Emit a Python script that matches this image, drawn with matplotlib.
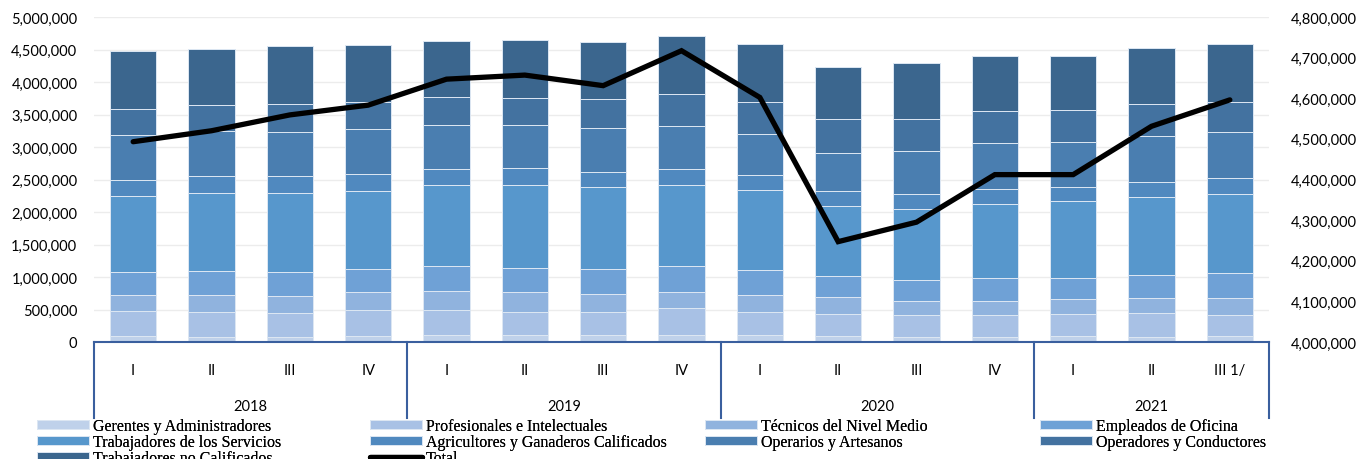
import matplotlib
matplotlib.use("Agg")
import matplotlib.pyplot as plt
from matplotlib.ticker import FuncFormatter, MultipleLocator
from matplotlib.transforms import blended_transform_factory
import numpy as np

quarters = ["I", "II", "III", "IV", "I", "II", "III", "IV",
            "I", "II", "III", "IV", "I", "II", "III 1/"]
years = ["2018", "2019", "2020", "2021"]
year_counts = [4, 4, 4, 3]

categories = ["Gerentes y Administradores", "Profesionales e Intelectuales",
              "Técnicos del Nivel Medio", "Empleados de Oficina",
              "Trabajadores de los Servicios", "Agricultores y Ganaderos Calificados",
              "Operarios y Artesanos", "Operadores y Conductores",
              "Trabajadores no Calificados"]

gerentes      = [87, 77, 77, 87, 113, 113, 113, 113, 113, 87, 77, 77, 87, 77, 87]
profesionales = [390, 385, 369, 405, 379, 349, 349, 410, 349, 349, 338, 338, 344, 364, 328]
tecnicos      = [246, 261, 262, 277, 287, 307, 276, 246, 261, 251, 216, 216, 231, 236, 262]
empleados     = [349, 369, 364, 354, 385, 364, 385, 395, 385, 328, 323, 354, 328, 349, 385]
servicios     = [1174, 1195, 1215, 1195, 1251, 1282, 1256, 1251, 1225, 1072, 1087, 1138, 1179, 1200, 1215]
agricultores  = [246, 267, 267, 261, 241, 262, 231, 241, 241, 231, 236, 231, 216, 230, 246]
operarios     = [693, 696, 672, 698, 677, 656, 677, 662, 626, 584, 661, 702, 687, 708, 703]
operadores    = [394, 391, 441, 415, 431, 421, 446, 492, 492, 529, 493, 503, 497, 492, 466]
no_calif      = [903, 867, 882, 877, 872, 892, 887, 903, 898, 805, 856, 841, 831, 862, 898]

total = [4493, 4520, 4559, 4583, 4647, 4657, 4631, 4717, 4602, 4247, 4295, 4412, 4412, 4531, 4596]

series = [gerentes, profesionales, tecnicos, empleados, servicios,
          agricultores, operarios, operadores, no_calif]
colors = ["#bfd1ea", "#a8c1e5", "#90b3de", "#6fa1d6", "#5797cc",
          "#5089bf", "#4a7eb0", "#4372a0", "#3b668e"]

fig = plt.figure(figsize=(13.61, 4.60), dpi=100)
ax = fig.add_axes([94/1361, 117/460, (1269-94)/1361, 325/460])
ax2 = ax.twinx()

x = np.arange(len(quarters))
bottom = np.zeros(len(quarters))
handles = []
for vals, col, name in zip(series, colors, categories):
    v = np.array(vals) * 1000.0
    b = ax.bar(x, v, width=0.59, bottom=bottom, color=col, edgecolor="#dde7f3",
               linewidth=0.7, label=name, zorder=2)
    handles.append(b)
    bottom += v

line, = ax2.plot(x, np.array(total) * 1000.0, color="black", linewidth=3.8,
                 solid_capstyle="round", solid_joinstyle="miter", label="Total", zorder=5)

tick_font = dict(family="Lato", size=10.5, color="black")
fmt = FuncFormatter(lambda v, p: f"{int(round(v)):,}")

ax.set_xlim(-0.5, len(quarters) - 0.5)
ax.set_ylim(0, 5_000_000)
ax.yaxis.set_major_locator(MultipleLocator(500_000))
ax.yaxis.set_major_formatter(fmt)
ax.grid(axis="y", color="#ececec", linewidth=1.0, zorder=0)
ax.set_axisbelow(True)

ax2.set_ylim(4_000_000, 4_800_000)
ax2.yaxis.set_major_locator(MultipleLocator(100_000))
ax2.yaxis.set_major_formatter(fmt)

for a in (ax, ax2):
    for s in a.spines.values():
        s.set_visible(False)
    a.tick_params(axis="both", length=0)
    for lab in a.get_yticklabels():
        lab.set_fontfamily("Lato")
        lab.set_fontsize(10.5)
ax.tick_params(axis="y", pad=12)
ax2.tick_params(axis="y", pad=16)
ax.set_xticks([])

ax2.set_zorder(ax.get_zorder() + 1)
ax.patch.set_visible(True)
ax2.patch.set_visible(False)

# category axis box
trans = blended_transform_factory(ax.transData, ax.transAxes)
axis_col = "#3a5f9e"
ax.plot([-0.5, len(quarters) - 0.5], [0, 0], transform=trans, color=axis_col,
        linewidth=1.5, clip_on=False, zorder=6)
for i, q in enumerate(quarters):
    ax.text(i, -0.085, q, transform=trans, ha="center", va="center", **tick_font)
start = 0
seps = [-0.5]
for yr, n in zip(years, year_counts):
    mid = start + (n - 1) / 2.0
    ax.text(mid, -0.197, yr, transform=trans, ha="center", va="center", **tick_font)
    start += n
    seps.append(start - 0.5)
for s in seps:
    ax.plot([s, s], [0, -0.235], transform=trans, color=axis_col, linewidth=1.5,
            clip_on=False, zorder=6)

# legend: four columns placed individually (row-major reading order)
h = handles
columns = [[h[0], h[4], h[8]], [h[1], h[5], line], [h[2], h[6]], [h[3], h[7]]]
col_x = [37, 370, 705, 1040]
for hs, cx in zip(columns, col_x):
    lg = fig.legend(hs, [o.get_label() for o in hs], loc="upper left",
                    bbox_to_anchor=(cx / 1361, 0.0885), ncol=1, frameon=False,
                    prop={"family": "Liberation Serif", "size": 11.5},
                    handlelength=3.25, handleheight=0.45, handletextpad=0.25,
                    labelspacing=0.0, borderaxespad=0, borderpad=0)
    fig.add_artist(lg)

fig.savefig("out.png", dpi=100)
